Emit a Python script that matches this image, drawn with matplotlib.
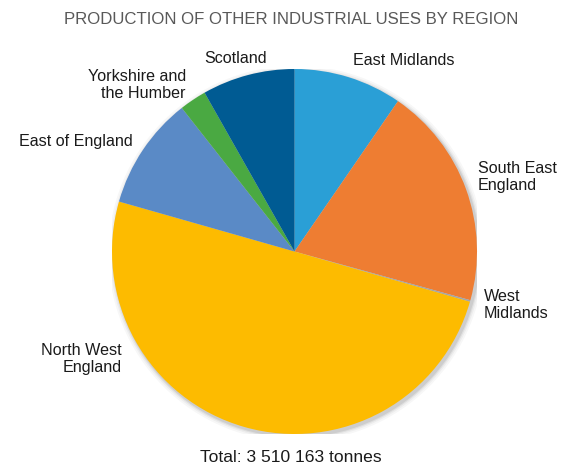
import numpy as np
import matplotlib.pyplot as plt
from matplotlib.patches import Circle

plt.rcParams.update({
    "font.family": ["Liberation Sans", "DejaVu Sans"],
    "font.size": 11,
})

# thousand tonnes (total 3 510 163 t)
REGIONS = [
    "East Midlands",
    "South East\nEngland",
    "West\nMidlands",
    "North West\nEngland",
    "East of England",
    "Yorkshire and\nthe Humber",
    "Scotland",
]
VALUES = [337, 692, 5, 1755, 351, 84, 288]
COLORS = ["#2a9fd6", "#ee7d32", "#a5a5a5", "#fdbb00", "#5a8ac6", "#4aa942", "#005b93"]

TITLE = "PRODUCTION OF OTHER INDUSTRIAL USES BY REGION"
TOTAL = "Total: 3 510 163 tonnes"

# label layout, in pie radius units
LABEL_POS = [(0.60, 1.044), (1.005, 0.408), (1.038, -0.293), (-0.945, -0.589),
             (-0.885, 0.605), (-0.595, 0.912), (-0.325, 1.055)]
LABEL_HA = ["center", "left", "left", "right", "right", "right", "center"]

fig = plt.figure(figsize=(5.71, 4.67), dpi=100)
ax = fig.add_axes([112 / 571, 33 / 467, 365 / 571, 365 / 467])

# soft shadow behind the pie
for r, a in [(1.03, 0.03), (1.02, 0.04), (1.012, 0.06), (1.006, 0.08)]:
    ax.add_patch(Circle((0.01, -0.012), r, color="#000000", alpha=a, lw=0, zorder=0))

wedges, _ = ax.pie(
    VALUES,
    colors=COLORS,
    startangle=90,
    counterclock=False,
    wedgeprops={"linewidth": 0},
)
for w in wedges:
    w.set_zorder(2)

for name, (x, y), ha in zip(REGIONS, LABEL_POS, LABEL_HA):
    ax.text(x, y, name, ha=ha, va="center", multialignment=ha,
            fontsize=11.6, color="#1a1a1a")

ax.set_xlim(-1, 1)
ax.set_ylim(-1, 1)
ax.set_aspect("equal")
ax.axis("off")

fig.text(291 / 571, 1 - 20 / 467, TITLE, ha="center", va="center",
         fontsize=12.1, color="#595959")
fig.text(291 / 571, 1 - 457 / 467, TOTAL, ha="center", va="center",
         fontsize=12.6, color="#1a1a1a")

fig.savefig("out.png", dpi=100)
